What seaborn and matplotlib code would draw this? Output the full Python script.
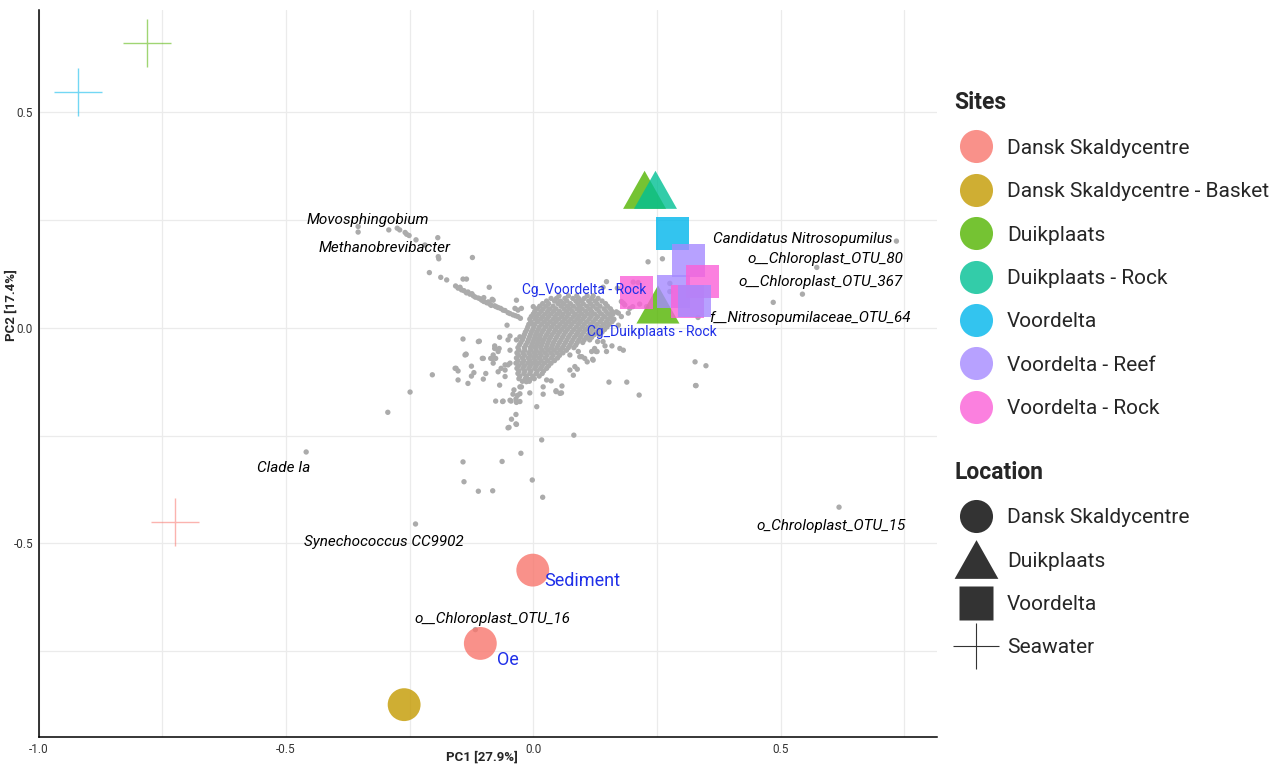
import matplotlib
matplotlib.use("Agg")
import matplotlib.pyplot as plt
from matplotlib.lines import Line2D
import seaborn as sns
import pandas as pd

sns.set_style("white")
plt.rcParams['font.family'] = ['Roboto', 'DejaVu Sans']

# OTU loadings (grey cloud)
otu_points = [
    (-0.354, 0.235), (-0.354, 0.222), (-0.292, 0.227), (-0.275, 0.231), (-0.270, 0.227),
    (-0.259, 0.221), (-0.256, 0.217), (-0.251, 0.214), (-0.237, 0.204), (-0.219, 0.192),
    (-0.193, 0.209), (-0.192, 0.165), (-0.191, 0.160), (-0.123, 0.163), (-0.210, 0.128),
    (-0.187, 0.117), (-0.175, 0.111), (-0.142, 0.113), (-0.135, 0.113), (-0.089, 0.094),
    (-0.157, 0.097), (-0.152, 0.092), (-0.145, 0.088), (-0.135, 0.081), (-0.128, 0.078),
    (-0.121, 0.074), (-0.111, 0.069), (-0.104, 0.064), (-0.094, 0.058), (-0.088, 0.055),
    (-0.081, 0.064), (-0.078, 0.051), (-0.071, 0.047), (-0.061, 0.041), (-0.051, 0.035),
    (-0.041, 0.030), (-0.031, 0.026), (-0.053, 0.006), (-0.034, 0.064),
    (-0.148, 0.094), (-0.140, 0.086), (-0.132, 0.083), (-0.124, 0.079), (-0.117, 0.071),
    (-0.107, 0.067), (-0.100, 0.061), (-0.091, 0.060), (-0.085, 0.052), (-0.075, 0.049),
    (-0.066, 0.045), (-0.057, 0.040), (-0.047, 0.033), (-0.036, 0.028), (-0.026, 0.022),
    (-0.100, 0.070), (-0.083, 0.066), (-0.031, 0.041), (-0.024, 0.045), (0.000, 0.049),
    (-0.003, 0.010), (-0.037, 0.045),
    (-0.142, -0.026), (-0.109, -0.031), (-0.068, -0.022), (-0.078, -0.048), (-0.136, -0.061),
    (-0.101, -0.071), (-0.082, -0.071), (-0.071, -0.055), (-0.051, -0.028), (-0.047, -0.052),
    (-0.034, -0.028), (-0.027, -0.021), (-0.158, -0.094), (-0.125, -0.089), (-0.057, -0.086),
    (-0.047, -0.082), (-0.047, -0.019),
    (-0.294, -0.196), (-0.249, -0.149), (-0.204, -0.109), (-0.156, -0.094), (-0.152, -0.100),
    (-0.152, -0.121), (-0.132, -0.129), (-0.136, -0.062), (-0.120, -0.104), (-0.125, -0.112),
    (-0.101, -0.119), (-0.096, -0.106), (-0.103, -0.071), (-0.086, -0.071), (-0.081, -0.063),
    (-0.076, -0.071), (-0.076, -0.170), (-0.071, -0.102), (-0.068, -0.133), (-0.065, -0.094),
    (-0.061, -0.170), (-0.057, -0.113), (-0.057, -0.098), (-0.051, -0.086), (-0.045, -0.170),
    (-0.041, -0.154), (-0.039, -0.144), (-0.035, -0.165), (-0.034, -0.173), (-0.027, -0.171),
    (-0.035, -0.201), (-0.044, -0.212), (-0.034, -0.224), (-0.051, -0.232), (-0.024, -0.137),
    (-0.014, -0.125), (-0.007, -0.151), (0.007, -0.183), (0.017, -0.260), (0.082, -0.249),
    (0.020, -0.154), (0.020, -0.137), (0.027, -0.121), (0.046, -0.146), (0.054, -0.152),
    (0.058, -0.135), (0.036, -0.123), (0.081, -0.110), (0.089, -0.096), (0.109, -0.079),
    (0.120, -0.073), (0.118, -0.055), (0.129, -0.055), (0.130, -0.032), (0.098, -0.067),
    (0.091, -0.055), (0.074, -0.063), (-0.069, -0.048), (-0.078, -0.042), (-0.111, -0.032),
    (0.148, 0.107), (0.170, 0.092), (0.178, 0.061), (0.185, 0.053), (0.192, 0.034),
    (0.178, 0.026), (0.168, 0.037), (0.161, 0.018), (0.172, 0.006), (0.182, -0.052),
    (0.141, -0.032), (0.148, -0.055), (0.124, -0.048), (0.104, -0.071), (0.094, -0.067),
    (0.084, -0.090), (0.074, -0.098), (0.327, -0.079), (0.349, -0.088), (0.232, 0.153),
    (0.261, 0.160), (0.276, 0.103), (0.276, 0.084), (0.182, 0.057), (0.201, 0.049),
    (0.215, 0.055), (0.229, 0.049), (0.172, 0.034), (0.329, -0.134), (0.153, -0.126),
    (0.189, -0.126), (0.214, -0.156), (0.175, -0.048), (0.145, -0.042), (0.159, -0.042),
    (0.127, -0.055), (0.121, -0.075), (0.141, 0.094), (0.202, 0.106), (0.212, 0.105),
    (0.195, 0.045),
    (-0.049, -0.231), (-0.035, -0.223), (-0.025, -0.291), (-0.063, -0.310), (-0.142, -0.311),
    (-0.140, -0.357), (-0.111, -0.379), (-0.082, -0.378), (-0.002, -0.353), (0.019, -0.393),
    (-0.238, -0.455), (-0.459, -0.288), (-0.117, -0.700),
    (0.046, -0.148), (0.057, -0.151), (-0.138, -0.063), (-0.081, -0.082), (-0.027, -0.137),
    (-0.062, -0.171), (-0.047, -0.168), (-0.032, -0.157), (-0.027, -0.153), (-0.014, -0.116),
    (-0.007, -0.120),
    (0.734, 0.201), (0.573, 0.140), (0.544, 0.078), (0.485, 0.059), (0.333, 0.024),
    (0.328, -0.134), (0.618, -0.416),
]

# dense core of the cloud, row by row (PC2 value, PC1 values)
core_rows = [
    (0.074, [0.052, 0.071, 0.088, 0.109, 0.121]),
    (0.068, [0.036, 0.047, 0.064, 0.080, 0.092, 0.103, 0.118, 0.131]),
    (0.062, [0.027, 0.043, 0.055, 0.068, 0.086, 0.097, 0.112, 0.125, 0.139]),
    (0.056, [0.019, 0.031, 0.050, 0.061, 0.075, 0.090, 0.101, 0.116, 0.129, 0.146]),
    (0.050, [0.013, 0.026, 0.040, 0.056, 0.069, 0.081, 0.094, 0.108, 0.121, 0.135, 0.150]),
    (0.044, [0.008, 0.020, 0.033, 0.046, 0.062, 0.074, 0.088, 0.099, 0.114, 0.128, 0.143, 0.156]),
    (0.038, [0.003, 0.016, 0.029, 0.041, 0.053, 0.067, 0.079, 0.093, 0.106, 0.118, 0.133, 0.147, 0.159]),
    (0.032, [0.000, 0.011, 0.024, 0.036, 0.049, 0.060, 0.072, 0.085, 0.098, 0.111, 0.124, 0.138, 0.152, 0.161]),
    (0.026, [-0.004, 0.007, 0.019, 0.031, 0.044, 0.057, 0.068, 0.081, 0.092, 0.104, 0.117, 0.130, 0.144, 0.157]),
    (0.020, [-0.007, 0.004, 0.015, 0.027, 0.040, 0.051, 0.064, 0.076, 0.089, 0.100, 0.113, 0.126, 0.139, 0.151, 0.163]),
    (0.014, [-0.005, 0.009, 0.022, 0.034, 0.046, 0.059, 0.071, 0.083, 0.095, 0.108, 0.121, 0.135, 0.148, 0.159]),
    (0.008, [-0.009, 0.003, 0.017, 0.029, 0.041, 0.054, 0.066, 0.078, 0.091, 0.103, 0.116, 0.129, 0.142, 0.153]),
    (0.002, [-0.011, 0.001, 0.012, 0.025, 0.037, 0.049, 0.062, 0.074, 0.087, 0.099, 0.111, 0.124, 0.137, 0.149]),
    (-0.004, [-0.013, -0.001, 0.010, 0.021, 0.033, 0.045, 0.057, 0.069, 0.082, 0.094, 0.106, 0.119, 0.132, 0.144]),
    (-0.010, [-0.016, -0.004, 0.007, 0.018, 0.030, 0.042, 0.053, 0.065, 0.078, 0.090, 0.102, 0.115, 0.127, 0.139]),
    (-0.016, [-0.018, -0.006, 0.005, 0.015, 0.027, 0.038, 0.050, 0.062, 0.074, 0.087, 0.098, 0.111, 0.123, 0.133]),
    (-0.022, [-0.020, -0.008, 0.003, 0.013, 0.024, 0.035, 0.047, 0.059, 0.071, 0.083, 0.095, 0.107, 0.118]),
    (-0.028, [-0.022, -0.010, 0.001, 0.011, 0.021, 0.032, 0.044, 0.056, 0.068, 0.080, 0.092, 0.103, 0.114]),
    (-0.034, [-0.025, -0.012, -0.001, 0.009, 0.019, 0.030, 0.041, 0.053, 0.065, 0.077, 0.089, 0.100]),
    (-0.040, [-0.028, -0.015, -0.003, 0.007, 0.017, 0.028, 0.039, 0.050, 0.062, 0.074, 0.086]),
    (-0.046, [-0.031, -0.018, -0.006, 0.004, 0.015, 0.026, 0.037, 0.048, 0.059, 0.071, 0.082]),
    (-0.052, [-0.029, -0.017, -0.005, 0.006, 0.018, 0.030, 0.042, 0.055, 0.067]),
    (-0.058, [-0.033, -0.021, -0.009, 0.002, 0.013, 0.024, 0.036, 0.048, 0.060]),
    (-0.064, [-0.030, -0.018, -0.006, 0.005, 0.016, 0.028, 0.040, 0.053]),
    (-0.070, [-0.034, -0.022, -0.010, 0.001, 0.012, 0.024, 0.037, 0.049]),
    (-0.076, [-0.031, -0.019, -0.007, 0.004, 0.016, 0.029, 0.043]),
    (-0.082, [-0.035, -0.023, -0.011, 0.000, 0.011, 0.023, 0.036]),
    (-0.088, [-0.030, -0.018, -0.006, 0.006, 0.018, 0.031]),
    (-0.094, [-0.033, -0.021, -0.009, 0.003, 0.015, 0.027]),
    (-0.100, [-0.029, -0.017, -0.005, 0.008, 0.021]),
    (-0.106, [-0.031, -0.019, -0.007, 0.006, 0.018]),
    (-0.112, [-0.027, -0.014, -0.001, 0.012]),
    (-0.118, [-0.029, -0.016, 0.002]),
    (-0.124, [-0.022, -0.008]),
]

# samples
sample_pc1 = [-0.001, -0.107, -0.261, 0.225, 0.247, 0.252, 0.281, 0.313, 0.284, 0.342, 0.208, 0.311, 0.325,
              -0.920, -0.780, -0.724]
sample_pc2 = [-0.562, -0.732, -0.874, 0.320, 0.320, 0.054, 0.218, 0.157, 0.084, 0.107, 0.081, 0.060, 0.062,
              0.547, 0.660, -0.451]
sample_site = ["Dansk Skaldycentre", "Dansk Skaldycentre", "Dansk Skaldycentre - Basket",
               "Duikplaats", "Duikplaats - Rock", "Duikplaats",
               "Voordelta", "Voordelta - Reef", "Voordelta - Reef", "Voordelta - Rock", "Voordelta - Rock",
               "Voordelta - Rock", "Voordelta - Reef",
               "Voordelta", "Duikplaats", "Dansk Skaldycentre"]
sample_location = ["Dansk Skaldycentre"] * 3 + ["Duikplaats"] * 3 + ["Voordelta"] * 7 + ["Seawater"] * 3

sites = ["Dansk Skaldycentre", "Dansk Skaldycentre - Basket", "Duikplaats", "Duikplaats - Rock",
         "Voordelta", "Voordelta - Reef", "Voordelta - Rock"]
site_colors = ["#F8766D", "#C49A00", "#53B400", "#00C094", "#00B6EB", "#A58AFF", "#FB61D7"]
locations = ["Dansk Skaldycentre", "Duikplaats", "Voordelta", "Seawater"]

# taxon labels
taxa_labels = ["Movosphingobium", "Methanobrevibacter", "Candidatus Nitrosopumilus", "o__Chloroplast_OTU_80",
               "o__Chloroplast_OTU_367", "f__Nitrosopumilaceae_OTU_64", "o_Chroloplast_OTU_15", "Clade Ia",
               "Synechococcus CC9902", "o__Chloroplast_OTU_16"]
taxa_x = [-0.334, -0.300, 0.545, 0.590, 0.580, 0.560, 0.602, -0.504, -0.302, -0.082]
taxa_y = [0.250, 0.185, 0.206, 0.160, 0.106, 0.023, -0.460, -0.325, -0.496, -0.675]

group_labels = ["Cg_Voordelta - Rock", "Cg_Duikplaats - Rock", "Sediment", "Oe"]
group_x = [0.103, 0.240, 0.099, -0.051]
group_y = [0.088, -0.009, -0.587, -0.771]
group_sizes = [10, 10, 13, 13]

otu_df = pd.DataFrame(otu_points, columns=["PC1", "PC2"])
core_df = pd.DataFrame([(x, y) for y, xs in core_rows for x in xs], columns=["PC1", "PC2"])
otu_df = pd.concat([otu_df, core_df], ignore_index=True)

samples = pd.DataFrame({"PC1": sample_pc1, "PC2": sample_pc2,
                        "Sites": sample_site, "Location": sample_location})
palette = dict(zip(sites, site_colors))

tri = [(-1, -0.885), (1, -0.885), (0, 0.885)]
marker_map = {"Dansk Skaldycentre": "o", "Duikplaats": tri, "Voordelta": "s", "Seawater": "+"}
size_map = {"Dansk Skaldycentre": 560, "Duikplaats": 960, "Voordelta": 560, "Seawater": 1200}

fig = plt.figure(figsize=(12.83, 7.64), dpi=100)
ax = fig.add_axes([38.5 / 1283, 1 - 737 / 764, (937 - 38.5) / 1283, (737 - 10) / 764])

sns.scatterplot(data=otu_df, x="PC1", y="PC2", color="#ABABAB", s=15, edgecolor="none",
                linewidth=0, ax=ax, zorder=2)

for loc in locations:
    sub = samples[samples["Location"] == loc]
    if loc == "Seawater":
        sns.scatterplot(data=sub, x="PC1", y="PC2", hue="Sites", palette=palette, marker="+",
                        s=size_map[loc], linewidth=1.0, alpha=0.55, legend=False, ax=ax, zorder=3)
    else:
        sns.scatterplot(data=sub, x="PC1", y="PC2", hue="Sites", palette=palette,
                        marker=marker_map[loc], s=size_map[loc], edgecolor="none", linewidth=0,
                        alpha=0.8, legend=False, ax=ax, zorder=3)

for lab, x, y in zip(taxa_labels, taxa_x, taxa_y):
    ax.text(x, y, lab, fontsize=11, style="italic", color="black", ha="center", va="center", zorder=4)

for lab, x, y, fs in zip(group_labels, group_x, group_y, group_sizes):
    ax.text(x, y, lab, fontsize=fs, color="#1F2FE8", ha="center", va="center", zorder=5)

ax.set_xlim(-1.0, 0.816)
ax.set_ylim(-0.949, 0.737)
ax.set_xticks([-1.0, -0.5, 0.0, 0.5])
ax.set_xticklabels(["-1.0", "-0.5", "0.0", "0.5"])
ax.set_yticks([-0.5, 0.0, 0.5])
ax.set_yticklabels(["-0.5", "0.0", "0.5"])
ax.set_xticks([-0.75, -0.25, 0.25, 0.75], minor=True)
ax.set_yticks([-0.75, -0.25, 0.25], minor=True)
ax.grid(which="both", color="#EBEBEB", linewidth=0.9, zorder=0)
ax.set_axisbelow(True)
ax.tick_params(which="both", length=0, labelsize=8.5, labelcolor="#333333", pad=4)
for side in ["top", "right"]:
    ax.spines[side].set_visible(False)
for side in ["left", "bottom"]:
    ax.spines[side].set_color("black")
    ax.spines[side].set_linewidth(1.1)
ax.set_xlabel("PC1 [27.9%]", fontsize=9.5, fontweight="bold", va="center")
ax.set_ylabel("PC2 [17.4%]", fontsize=9.5, fontweight="bold", va="center")
ax.xaxis.set_label_coords(0.494, -0.0275)
ax.yaxis.set_label_coords(-0.0305, 0.594)

# legends
site_handles = [Line2D([], [], linestyle="none", marker="o", markersize=23.8, markerfacecolor=c,
                       markeredgecolor="none", alpha=0.8) for c in site_colors]
leg1 = fig.legend(site_handles, sites, title="Sites", loc="upper left", bbox_to_anchor=(0.736, 0.894),
                  frameon=False, fontsize=15, title_fontsize=16.5, labelspacing=1.17,
                  handletextpad=0.5, borderpad=0, alignment="left")
leg1.get_title().set_fontweight("bold")

loc_handles = [
    Line2D([], [], linestyle="none", marker="o", markersize=23.8, markerfacecolor="#333333", markeredgecolor="none"),
    Line2D([], [], linestyle="none", marker=tri, markersize=31.5, markerfacecolor="#333333", markeredgecolor="none"),
    Line2D([], [], linestyle="none", marker="s", markersize=23.8, markerfacecolor="#333333", markeredgecolor="none"),
    Line2D([], [], linestyle="none", marker="+", markersize=33, markeredgecolor="#333333", markeredgewidth=0.8),
]
leg2 = fig.legend(loc_handles, locations, title="Location", loc="upper left", bbox_to_anchor=(0.736, 0.4105),
                  frameon=False, fontsize=15, title_fontsize=16.5, labelspacing=1.17,
                  handletextpad=0.5, borderpad=0, alignment="left")
leg2.get_title().set_fontweight("bold")

fig.savefig("out.png", dpi=100)
